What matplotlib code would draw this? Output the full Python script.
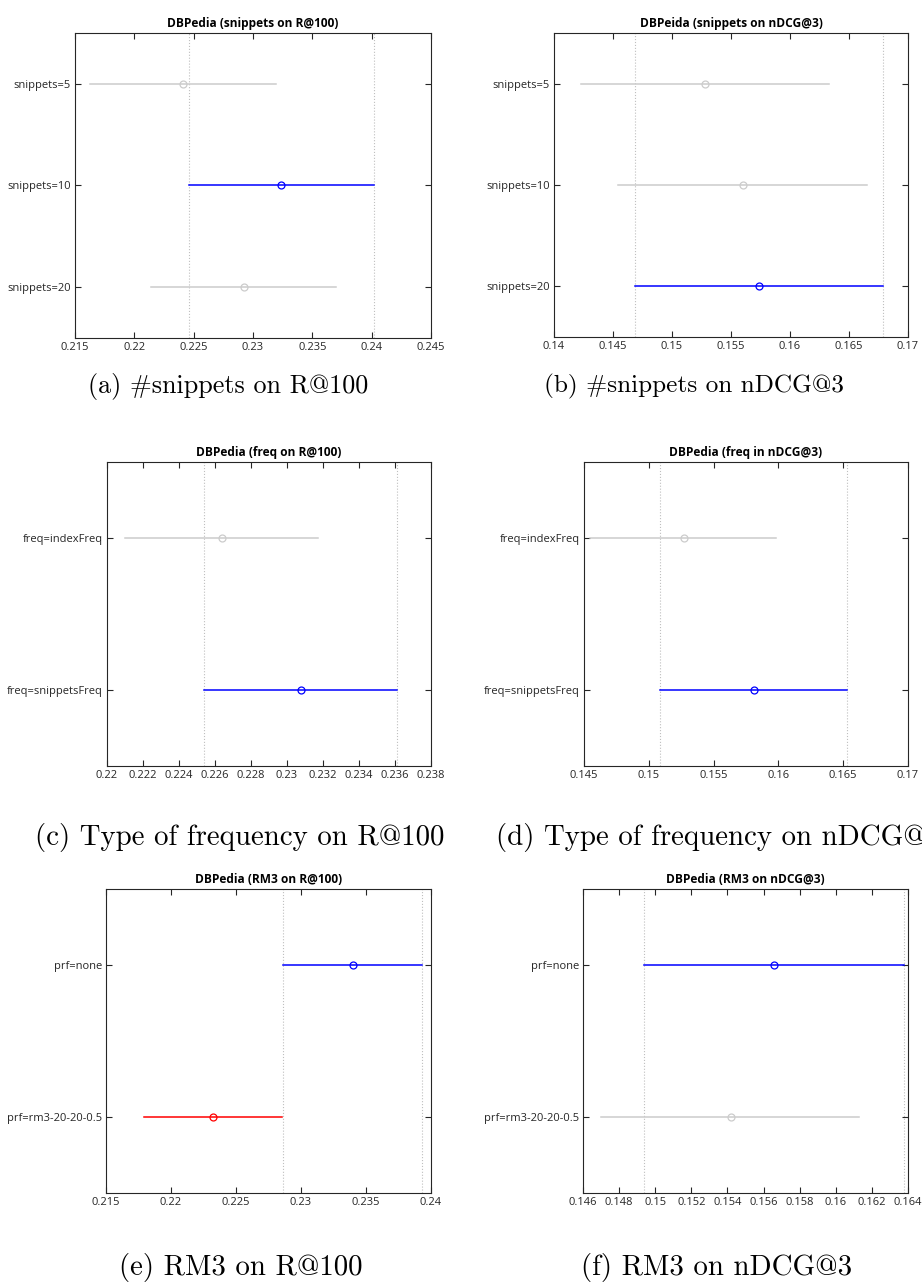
import matplotlib
matplotlib.use('Agg')
import matplotlib.pyplot as plt

# --- data ---
# (a) snippets on R@100
a_labels = ['snippets=5', 'snippets=10', 'snippets=20']
a_mean = [0.2241, 0.2324, 0.2292]
a_lo = [0.2163, 0.2246, 0.2214]
a_hi = [0.2319, 0.2402, 0.2370]
a_state = ['ns', 'sel', 'ns']

# (b) snippets on nDCG@3
b_labels = ['snippets=5', 'snippets=10', 'snippets=20']
b_mean = [0.1528, 0.1560, 0.1574]
b_lo = [0.1423, 0.1454, 0.1469]
b_hi = [0.1633, 0.1665, 0.1679]
b_state = ['ns', 'ns', 'sel']

# (c) freq on R@100
c_labels = ['freq=indexFreq', 'freq=snippetsFreq']
c_mean = [0.2264, 0.2308]
c_lo = [0.2210, 0.2254]
c_hi = [0.2317, 0.2361]
c_state = ['ns', 'sel']

# (d) freq on nDCG@3
d_labels = ['freq=indexFreq', 'freq=snippetsFreq']
d_mean = [0.1527, 0.1581]
d_lo = [0.1455, 0.1509]
d_hi = [0.1598, 0.1653]
d_state = ['ns', 'sel']

# (e) RM3 on R@100
e_labels = ['prf=none', 'prf=rm3-20-20-0.5']
e_mean = [0.2340, 0.2232]
e_lo = [0.2286, 0.2179]
e_hi = [0.2393, 0.2285]
e_state = ['sel', 'sig']

# (f) RM3 on nDCG@3
f_labels = ['prf=none', 'prf=rm3-20-20-0.5']
f_mean = [0.1566, 0.1542]
f_lo = [0.1494, 0.1470]
f_hi = [0.1638, 0.1613]
f_state = ['sel', 'ns']

panels = [
    ('DBPedia (snippets on R@100)', a_labels, a_mean, a_lo, a_hi, a_state,
     (0.215, 0.245), 0.005, '(a) #snippets on R@100'),
    ('DBPeida (snippets on nDCG@3)', b_labels, b_mean, b_lo, b_hi, b_state,
     (0.14, 0.17), 0.005, '(b) #snippets on nDCG@3'),
    ('DBPedia (freq on R@100)', c_labels, c_mean, c_lo, c_hi, c_state,
     (0.22, 0.238), 0.002, '(c) Type of frequency on R@100'),
    ('DBPedia (freq in nDCG@3)', d_labels, d_mean, d_lo, d_hi, d_state,
     (0.145, 0.17), 0.005, '(d) Type of frequency on nDCG@3'),
    ('DBPedia (RM3 on R@100)', e_labels, e_mean, e_lo, e_hi, e_state,
     (0.215, 0.24), 0.005, '(e) RM3 on R@100'),
    ('DBPedia (RM3 on nDCG@3)', f_labels, f_mean, f_lo, f_hi, f_state,
     (0.146, 0.164), 0.002, '(f) RM3 on nDCG@3'),
]

COLORS = {'sel': '#0000ff', 'sig': '#ff0000', 'ns': '#cccccc'}

# axes boxes in pixels: left, right, top, bottom
W, H = 922, 1283
boxes = [
    (75, 431, 33, 338), (554, 908, 33, 337),
    (107, 431, 462, 766), (584, 908, 462, 766),
    (106, 431, 889, 1193), (583, 908, 889, 1193),
]
# caption: center x, center y, font size
caps = [(228, 386, 18.8), (694, 386, 18.2), (240, 838, 20.8), (718, 838, 20.8),
        (241, 1267, 20.8), (717, 1267, 20.8)]

plt.rcParams['font.family'] = ['Open Sans', 'DejaVu Sans']
fig = plt.figure(figsize=(W / 100, H / 100), dpi=100)

for (title, labels, mean, lo, hi, state, xlim, step, caption), box, cap in zip(panels, boxes, caps):
    l, r, t, b = box
    ax = fig.add_axes([l / W, 1 - b / H, (r - l) / W, (b - t) / H])
    n = len(labels)
    ys = list(range(1, n + 1))
    for y, m, lo_, hi_, st in zip(ys, mean, lo, hi, state):
        c = COLORS[st]
        ax.plot([lo_, hi_], [y, y], color=c, lw=1.1, zorder=3)
        ax.plot([m], [y], marker='o', mfc='none', mec=c, ms=5, mew=0.9, zorder=4)
    sel = state.index('sel')
    for xv in (lo[sel], hi[sel]):
        ax.axvline(xv, color='#bfbfbf', ls=':', lw=0.8, zorder=1)
    ax.set_xlim(*xlim)
    ax.set_ylim(n + 0.5, 0.5)
    ticks = []
    v = xlim[0]
    while v <= xlim[1] + 1e-9:
        ticks.append(round(v, 4))
        v += step
    ax.set_xticks(ticks)
    ax.set_xticklabels(['%g' % tv for tv in ticks])
    ax.set_yticks(ys)
    ax.set_yticklabels(labels)
    ax.tick_params(direction='in', top=True, right=True, length=4, width=0.8,
                   labelsize=8, labelcolor='#262626', color='#262626', pad=3)
    for s in ax.spines.values():
        s.set_color('#262626')
        s.set_linewidth(0.8)
    ax.set_title(title, fontsize=8.6, fontweight='bold', pad=4)
    fig.text(cap[0] / W, 1 - cap[1] / H, caption, family='cmr10', fontsize=cap[2],
             ha='center', va='center')

fig.savefig('out.png', dpi=100)
